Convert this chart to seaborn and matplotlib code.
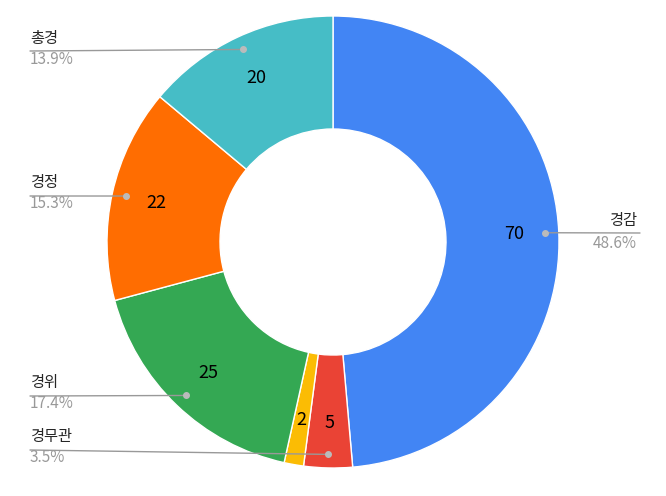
import numpy as np
import matplotlib
matplotlib.use("Agg")
import matplotlib.pyplot as plt
import seaborn as sns

sns.set_style("white")
plt.rcParams['font.family'] = ['Noto Sans CJK KR', 'DejaVu Sans']

ranks = ["경감", "경무관", "치안감", "경위", "경정", "총경"]
counts = [70, 5, 2, 25, 22, 20]
colors = ["#4285F4", "#EA4335", "#FBBC04", "#34A853", "#FF6D01", "#46BDC6"]
# label text y (pixels from top) for outside labels; None = no outside label
label_y = {"경감": 220, "경무관": 437, "경위": 383, "경정": 183, "총경": 38}

W, H = 666, 496
cx, cy, R = 333, 242, 226

fig = plt.figure(figsize=(W / 100, H / 100), dpi=100)
ax = fig.add_axes([0, 0, 1, 1])


def px(x, y):
    return (x - cx) / R, (cy - y) / R


wedges, _ = ax.pie(counts, colors=colors, startangle=90, counterclock=False,
                   radius=1, wedgeprops=dict(width=0.5, edgecolor="white", linewidth=1))

total = sum(counts)
grey = "#999999"
for w, name, v in zip(wedges, ranks, counts):
    mid = np.deg2rad((w.theta1 + w.theta2) / 2)
    tx, ty = 0.8 * np.cos(mid), 0.8 * np.sin(mid)
    ax.text(tx, ty, str(v), ha="center", va="center", fontsize=13, color="black")
    if name not in label_y:
        continue
    dx, dy = 0.94 * np.cos(mid), 0.94 * np.sin(mid)
    ly = label_y[name]
    pct = f"{v / total * 100:.1f}%"
    _, line_y = px(0, ly + 13)
    if dx > 0:
        x_end, _ = px(640, 0)
        ax.plot([dx, x_end], [dy, line_y], color=grey, lw=1)
        ax.text(*px(637, ly), name, ha="right", va="center", fontsize=11)
        ax.text(*px(637, ly + 23), pct, ha="right", va="center", fontsize=11, color=grey)
    else:
        x_end, _ = px(30, 0)
        ax.plot([x_end, dx], [line_y, dy], color=grey, lw=1)
        ax.text(*px(30, ly), name, ha="left", va="center", fontsize=11)
        ax.text(*px(30, ly + 21), pct, ha="left", va="center", fontsize=11, color=grey)
    ax.plot(dx, dy, "o", color="#bbbbbb", ms=4)

ax.set_xlim(-cx / R, (W - cx) / R)
ax.set_ylim(-(H - cy) / R, cy / R)
ax.set_aspect("equal")
ax.axis("off")

fig.savefig("out.png", dpi=100, facecolor="white")
